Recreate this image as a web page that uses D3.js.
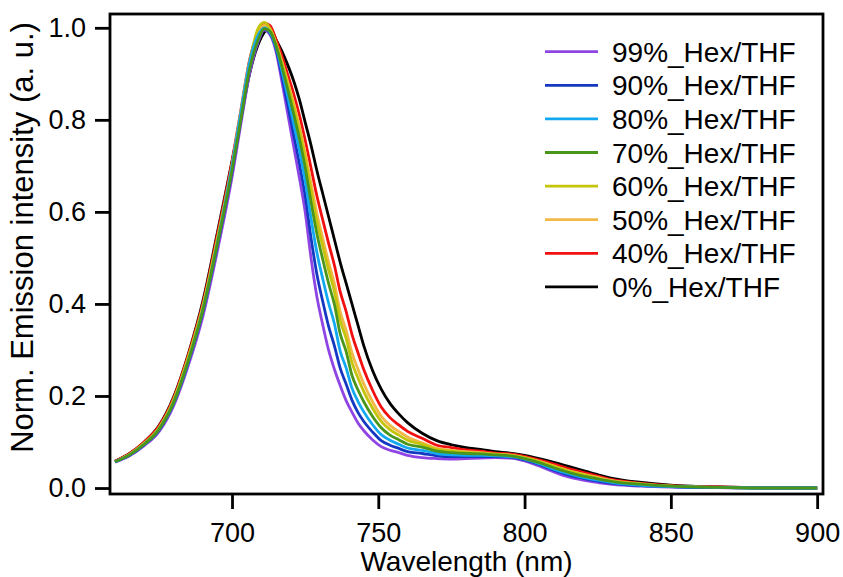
<!DOCTYPE html>
<html>
<head>
<meta charset="utf-8">
<script src="https://cdn.jsdelivr.net/npm/d3@7"></script>
<style>
  html, body { margin: 0; padding: 0; background: #fff; }
  svg { display: block; }
  text { font-family: "Liberation Sans", Arial, Helvetica, sans-serif; fill: #000; }
</style>
</head>
<body>
<svg id="chart" width="843" height="577"></svg>
<script>
// ---- data ----
const wavelengths = [660,665,670,675,680,685,690,695,700,703,706,709,711,
  713,715,717,719,721,723,725,727,729,731,733,735,
  737,739,
  741,743,745,748,751,754,757,760,
  765,770,775,780,785,790,795,800,805,810,815,820,825,830,840,850,860,870,880,890,900];

const seriesNames = ["99%_Hex/THF","90%_Hex/THF","80%_Hex/THF","70%_Hex/THF","60%_Hex/THF","50%_Hex/THF","40%_Hex/THF","0%_Hex/THF"];
const seriesColors = ["#8f45e3","#1438c2","#14a8f0","#4a961a","#c4c40a","#f2b848","#f01010","#000000"];

const hex99 = [.056,.070,.092,.122,.178,.265,.372,.515,.675,.79,.90,.97,.995,
  .985,.95,.885,.815,.745,.675,.60,.50,.416,.355,.30,.258,
  .222,.19,
  .165,.142,.125,.105,.09,.082,.077,.071,
  .066,.064,.063,.064,.065,.066,.065,.059,.048,.035,.024,.017,.012,.008,.004,.002,.001,.0005,0,0,0];
const hex90 = [.057,.071,.094,.125,.183,.272,.382,.527,.688,.80,.91,.975,.998,
  .988,.955,.897,.834,.770,.706,.635,.544,.465,.406,.352,.309,
  .260,.226,
  .191,.165,.145,.122,.103,.093,.086,.079,
  .075,.070,.068,.068,.068,.068,.067,.061,.051,.039,.028,.021,.015,.010,.005,.003,.001,.001,0,0,0];
const hex80 = [.057,.072,.095,.127,.185,.275,.386,.532,.70,.815,.925,.985,1.0,
  .990,.959,.908,.852,.794,.735,.668,.586,.512,.455,.402,.357,
  .297,.261,
  .217,.189,.166,.138,.116,.104,.095,.087,
  .082,.075,.072,.071,.071,.070,.068,.063,.053,.041,.031,.023,.017,.012,.006,.003,.002,.001,0,0,0];
const hex70 = [.057,.072,.095,.127,.185,.275,.385,.53,.69,.80,.91,.975,.998,
  .992,.962,.917,.867,.815,.760,.697,.622,.553,.497,.445,.399,
  .335,.297,
  .245,.214,.188,.156,.131,.115,.105,.095,
  .089,.080,.077,.075,.074,.072,.070,.064,.055,.044,.034,.026,.020,.014,.008,.004,.002,.001,0,0,0];
const hex60 = [.057,.073,.097,.130,.19,.282,.393,.54,.70,.815,.925,1.0,1.012,
  .998,.965,.924,.878,.830,.777,.717,.647,.580,.526,.474,.427,
  .364,.325,
  .273,.240,.210,.174,.145,.127,.115,.104,
  .095,.084,.080,.077,.075,.073,.071,.066,.057,.047,.037,.029,.021,.015,.008,.004,.002,.001,.001,0,0];
const hex50 = [.057,.073,.097,.130,.19,.282,.393,.54,.70,.815,.925,.99,1.005,
  .997,.967,.928,.884,.838,.787,.729,.662,.597,.543,.491,.444,
  .383,.343,
  .294,.259,.227,.188,.156,.136,.123,.111,
  .098,.086,.082,.079,.077,.074,.072,.066,.058,.048,.038,.030,.023,.016,.009,.004,.002,.001,.001,0,0];
const hex40 = [.058,.075,.10,.134,.195,.288,.40,.55,.71,.82,.93,.99,1.01,
  1.005,.975,.94,.899,.858,.811,.756,.696,.635,.583,.532,.484,
  .426,.384,
  .334,.295,.258,.213,.176,.153,.137,.123,
  .108,.093,.088,.083,.080,.076,.074,.069,.061,.052,.042,.034,.026,.018,.010,.005,.003,.002,.001,0,0];
const hex0 = [.058,.075,.10,.135,.197,.29,.405,.555,.71,.80,.90,.965,.99,
  1.0,.975,.95,.92,.886,.845,.795,.745,.69,.64,.59,.54,
  .49,.445,
  .40,.355,.31,.256,.215,.184,.161,.142,
  .119,.103,.094,.088,.084,.079,.076,.071,.064,.056,.047,.038,.029,.021,.012,.006,.003,.002,.001,.0005,0];

const seriesValues = [hex99, hex90, hex80, hex70, hex60, hex50, hex40, hex0];
const xTicks = [700, 750, 800, 850, 900];
const yTicks = [0.0, 0.2, 0.4, 0.6, 0.8, 1.0];
const xTitle = "Wavelength (nm)";
const yTitle = "Norm. Emission intensity (a. u.)";

// ---- layout ----
const L = 110, R = 823, T = 14, B = 494;
const svg = d3.select("#chart");
const x = d3.scaleLinear().domain([658.3, 902.0]).range([L, R]);
const y = d3.scaleLinear().domain([-0.013, 1.030]).range([B, T]);

// draw order (green on top)
const drawOrder = [7, 6, 5, 4, 0, 1, 2, 3];
const line = d3.line()
  .x((d, i) => x(wavelengths[i]))
  .y(d => y(d))
  .curve(d3.curveMonotoneX);

const g = svg.append("g");
drawOrder.forEach(si => {
  g.append("path")
    .attr("d", line(seriesValues[si]))
    .attr("fill", "none")
    .attr("stroke", seriesColors[si])
    .attr("stroke-width", 2.8)
    .attr("stroke-linejoin", "round");
});

// frame
svg.append("rect")
  .attr("x", L).attr("y", T)
  .attr("width", R - L).attr("height", B - T)
  .attr("fill", "none").attr("stroke", "#000").attr("stroke-width", 2.8);

// axes
const xAxis = d3.axisBottom(x).tickValues(xTicks).tickSize(15).tickPadding(14).tickFormat(d3.format("d"));
const yAxis = d3.axisLeft(y).tickValues(yTicks).tickSize(15).tickPadding(9).tickFormat(d3.format(".1f"));

const gx = svg.append("g").attr("transform", `translate(0,${B})`).call(xAxis);
const gy = svg.append("g").attr("transform", `translate(${L},0)`).call(yAxis);
[gx, gy].forEach(a => {
  a.select(".domain").remove();
  a.selectAll(".tick line").attr("stroke", "#000").attr("stroke-width", 2.8);
  a.selectAll(".tick text").attr("font-size", 27).attr("fill", "#000")
    .style("font-family", '"Liberation Sans", Arial, sans-serif');
});
gx.selectAll(".tick text").attr("dy", "0.71em");

// axis titles
svg.append("text")
  .attr("x", (L + R) / 2).attr("y", 571)
  .attr("text-anchor", "middle")
  .attr("font-size", 28)
  .text(xTitle);

svg.append("text")
  .attr("transform", `translate(33,${237.5}) rotate(-90)`)
  .attr("text-anchor", "middle")
  .attr("font-size", 31)
  .text(yTitle);

// legend
const lg = svg.append("g");
seriesNames.forEach((name, i) => {
  const cy = 51.7 + i * 33.6;
  lg.append("line")
    .attr("x1", 545).attr("x2", 598)
    .attr("y1", cy).attr("y2", cy)
    .attr("stroke", seriesColors[i]).attr("stroke-width", 2.8);
  lg.append("text")
    .attr("x", 612).attr("y", cy)
    .attr("dy", "0.36em")
    .attr("font-size", 28)
    .text(name);
});
</script>
</body>
</html>
